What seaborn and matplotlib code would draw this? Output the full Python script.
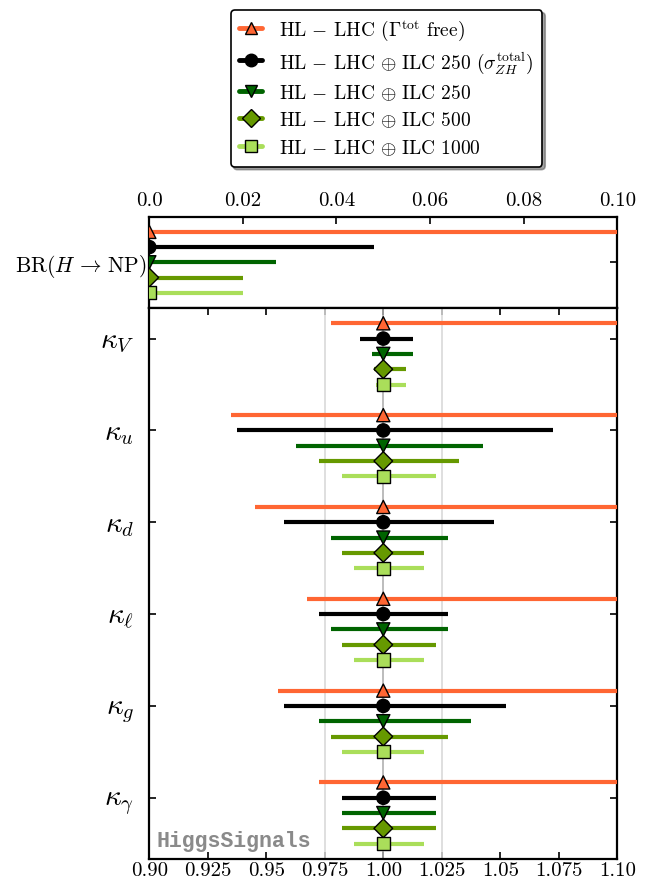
import numpy as np
import pandas as pd
import seaborn as sns
import matplotlib
matplotlib.use("Agg")
import matplotlib.pyplot as plt
from matplotlib.lines import Line2D

sns.set_style("ticks")
plt.rcParams["font.family"] = ["serif"]
plt.rcParams["font.serif"] = ["cmr10"]
plt.rcParams["mathtext.fontset"] = "cm"
plt.rcParams["axes.unicode_minus"] = False
plt.rcParams["axes.formatter.use_mathtext"] = True
plt.rcParams["text.color"] = "black"
plt.rcParams["axes.edgecolor"] = "black"
plt.rcParams["xtick.color"] = "black"
plt.rcParams["ytick.color"] = "black"
plt.rcParams["axes.labelcolor"] = "black"

# ---- data -------------------------------------------------------------
scenarios = [
    r"$\mathrm{HL}\,-\,\mathrm{LHC}$ ($\Gamma^{\rm tot}$ free)",
    r"$\mathrm{HL}\,-\,\mathrm{LHC} \,\oplus\, \mathrm{ILC\ 250}$ ($\sigma_{ZH}^{\rm total}$)",
    r"$\mathrm{HL}\,-\,\mathrm{LHC} \,\oplus\, \mathrm{ILC\ 250}$",
    r"$\mathrm{HL}\,-\,\mathrm{LHC} \,\oplus\, \mathrm{ILC\ 500}$",
    r"$\mathrm{HL}\,-\,\mathrm{LHC} \,\oplus\, \mathrm{ILC\ 1000}$",
]
colors = ["#ff6633", "#000000", "#006400", "#669900", "#aade5a"]
markers = ["^", "o", "v", "D", "s"]

couplings = [r"$\kappa_V$", r"$\kappa_u$", r"$\kappa_d$",
             r"$\kappa_\ell$", r"$\kappa_g$", r"$\kappa_\gamma$"]
kappa_central = [1.0, 1.0, 1.0, 1.0, 1.0, 1.0]

# lower / upper 1-sigma uncertainties, one list per scenario (V, u, d, l, g, gamma)
kappa_err_lo = [
    [0.0225, 0.065, 0.055, 0.0325, 0.045, 0.0275],
    [0.010, 0.0625, 0.0425, 0.0275, 0.0425, 0.0175],
    [0.005, 0.0375, 0.0225, 0.0225, 0.0275, 0.0175],
    [0.004, 0.0275, 0.0175, 0.0175, 0.0225, 0.0175],
    [0.003, 0.0175, 0.0125, 0.0125, 0.0175, 0.0125],
]
kappa_err_hi = [
    [0.300, 0.300, 0.300, 0.300, 0.300, 0.300],
    [0.0125, 0.0725, 0.0475, 0.0275, 0.0525, 0.0225],
    [0.0125, 0.0425, 0.0275, 0.0275, 0.0375, 0.0225],
    [0.0095, 0.0325, 0.0175, 0.0225, 0.0275, 0.0225],
    [0.0095, 0.0225, 0.0175, 0.0175, 0.0175, 0.0175],
]

br_label = r"$\mathrm{BR}(H \,\to\, \mathrm{NP})$"
br_central = [0.0, 0.0, 0.0, 0.0, 0.0]
br_upper = [0.30, 0.048, 0.027, 0.020, 0.020]

main_ticks = [0.90, 0.925, 0.95, 0.975, 1.00, 1.025, 1.05, 1.075, 1.10]
main_ticklabels = ["0.90", "0.925", "0.95", "0.975", "1.00", "1.025",
                   "1.05", "1.075", "1.10"]
br_ticks = [0.0, 0.02, 0.04, 0.06, 0.08, 0.10]
br_ticklabels = ["0.0", "0.02", "0.04", "0.06", "0.08", "0.10"]

# ---- long-form tables ---------------------------------------------------
offsets = [-1 / 6, 0.0, 1 / 6, 2 / 6, 3 / 6]
rows = []
for s, name in enumerate(scenarios):
    for c in range(len(couplings)):
        rows.append(dict(scenario=name, y=c + offsets[s],
                         x=kappa_central[c],
                         lo=kappa_central[c] - kappa_err_lo[s][c],
                         hi=kappa_central[c] + kappa_err_hi[s][c]))
kdf = pd.DataFrame(rows)

br_offsets = [-2 / 6, -1 / 6, 0.0, 1 / 6, 2 / 6]
bdf = pd.DataFrame(dict(scenario=scenarios, y=br_offsets,
                        x=br_central, lo=br_central, hi=br_upper))

palette = dict(zip(scenarios, colors))
marker_map = dict(zip(scenarios, markers))

# ---- figure -------------------------------------------------------------
fig = plt.figure(figsize=(6.48, 8.85), dpi=100)
ax_top = fig.add_axes([0.2304, 0.6520, 0.7222, 0.1032])
ax = fig.add_axes([0.2304, 0.0294, 0.7222, 0.6226])

lw_bar = 3.0
ms = 90

def draw(axis, df):
    for name, col in zip(scenarios, colors):
        d = df[df.scenario == name]
        axis.hlines(d.y, d.lo, d.hi, colors=col, lw=lw_bar, zorder=3)
    sns.scatterplot(data=df, x="x", y="y", hue="scenario", style="scenario",
                    palette=palette, markers=marker_map, s=ms,
                    edgecolor="black", linewidth=1.0, legend=False,
                    zorder=4, ax=axis)

# grid lines in the coupling panel
for gx, gc in [(0.975, "#d9d9d9"), (1.025, "#d9d9d9"), (1.0, "#b0b0b0")]:
    ax.axvline(gx, color=gc, lw=1.2, zorder=1)

draw(ax, kdf)
draw(ax_top, bdf)

# coupling panel axes
ax.set_xlim(0.90, 1.10)
ax.set_ylim(len(couplings) - 1 + 2 / 3, -1 / 3)
ax.set_xticks(main_ticks)
ax.set_xticklabels(main_ticklabels, fontsize=15)
ax.set_yticks(range(len(couplings)))
ax.set_yticklabels(couplings, fontsize=21)
ax.set_xlabel("")
ax.set_ylabel("")
ax.tick_params(axis="both", direction="in", top=True, right=True,
               length=5, width=1.2)
ax.tick_params(axis="x", pad=2.5)
ax.tick_params(axis="y", pad=11)

# branching-ratio panel axes
ax_top.set_xlim(0.0, 0.10)
ax_top.set_ylim(0.5, -0.5)
ax_top.set_xticks(br_ticks)
ax_top.set_xticklabels(br_ticklabels, fontsize=15)
ax_top.set_yticks([0.0])
ax_top.set_yticklabels([br_label], fontsize=15.5)
ax_top.set_xlabel("")
ax_top.set_ylabel("")
ax_top.xaxis.tick_top()
ax_top.tick_params(axis="both", direction="in", top=True, bottom=False,
                   right=True, left=False, length=5, width=1.2)
ax_top.tick_params(axis="x", pad=5)
ax_top.tick_params(axis="y", pad=2)

for a in (ax, ax_top):
    for sp in a.spines.values():
        sp.set_linewidth(1.6)
        sp.set_color("black")
        sp.set_visible(True)

ax.text(0.016, 0.031, "HiggsSignals", transform=ax.transAxes,
        family="Liberation Mono", fontweight="bold", fontsize=15.5,
        color="#8a8a8a", ha="left", va="center")

handles = [Line2D([0], [0], color=c, lw=3.5, marker=m, markersize=9,
                  markerfacecolor=c, markeredgecolor="black",
                  markeredgewidth=1.0)
           for c, m in zip(colors, markers)]
leg = fig.legend(handles, scenarios, loc="upper center",
                 bbox_to_anchor=(0.5965, 0.989), fontsize=14.0,
                 handlelength=1.15, handletextpad=0.9, labelspacing=0.36,
                 handleheight=1.2, frameon=True, fancybox=True, shadow=True,
                 framealpha=1, borderpad=0.45, borderaxespad=0.0)
leg.get_frame().set_edgecolor("black")
leg.get_frame().set_linewidth(1.2)

fig.savefig("out.png", dpi=100)
